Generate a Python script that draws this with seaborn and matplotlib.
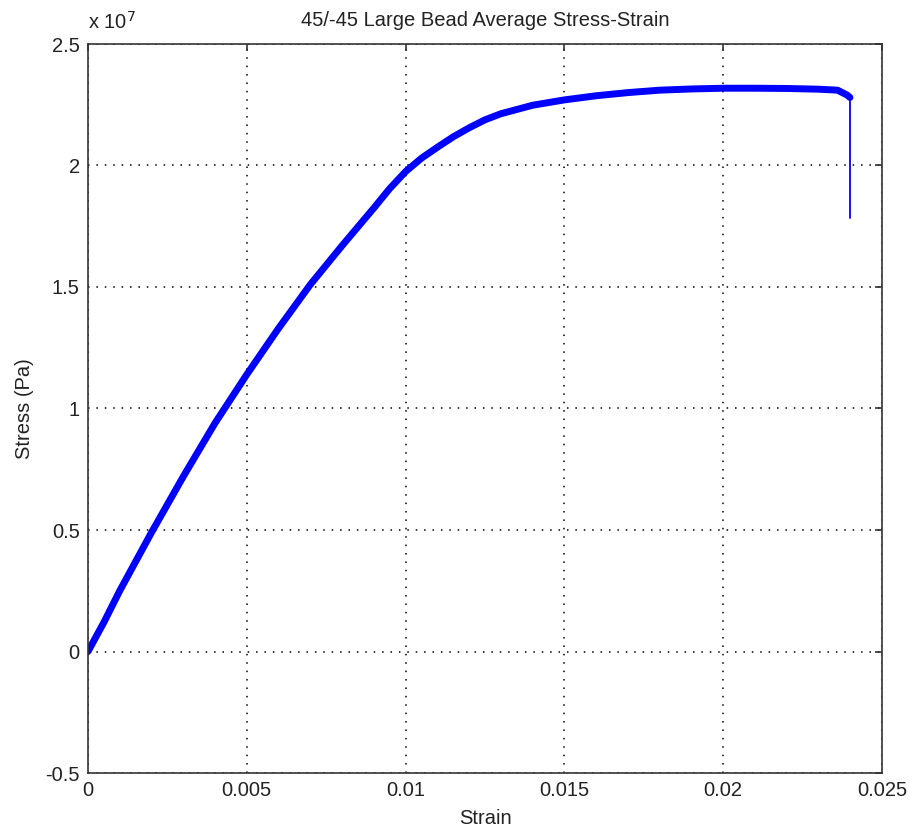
import numpy as np
import pandas as pd
import matplotlib
matplotlib.use('Agg')
import matplotlib.pyplot as plt
import matplotlib.ticker as mticker
import seaborn as sns

# stress-strain curve (stress in Pa)
strain = [0.0, 0.0005, 0.001, 0.002, 0.003, 0.004, 0.005, 0.006, 0.007, 0.008,
          0.009, 0.0095, 0.010, 0.0105, 0.011, 0.0115, 0.012, 0.0125, 0.013, 0.014,
          0.015, 0.016, 0.017, 0.018, 0.019, 0.020, 0.021, 0.022, 0.023, 0.0236,
          0.0239, 0.02399]
stress = [0.0, 0.12e7, 0.25e7, 0.49e7, 0.72e7, 0.94e7, 1.14e7, 1.33e7, 1.51e7, 1.67e7,
          1.825e7, 1.905e7, 1.975e7, 2.03e7, 2.075e7, 2.118e7, 2.155e7, 2.188e7, 2.213e7, 2.248e7,
          2.27e7, 2.287e7, 2.30e7, 2.31e7, 2.315e7, 2.318e7, 2.318e7, 2.317e7, 2.314e7, 2.31e7,
          2.29e7, 2.28e7]
# final failure drop
drop_strain = [0.02399, 0.02399]
drop_stress = [2.28e7, 1.786e7]

df = pd.DataFrame({'Strain': strain, 'Stress': stress})
drop = pd.DataFrame({'Strain': drop_strain, 'Stress': drop_stress})

sns.set_style('white')
plt.rcParams['font.family'] = ['Liberation Sans', 'DejaVu Sans']
fs = 14.5

fig = plt.figure(figsize=(9.1, 8.3), dpi=100)
ax = fig.add_axes([88 / 910, 57 / 830, 794 / 910, 729 / 830])

sns.lineplot(data=df, x='Strain', y='Stress', sort=False, estimator=None,
             color='#0000ff', linewidth=5, ax=ax)
sns.lineplot(data=drop, x='Strain', y='Stress', sort=False, estimator=None,
             color='#0000ff', linewidth=1.3, ax=ax)

ax.set_xlim(0, 0.025)
ax.set_ylim(-0.5e7, 2.5e7)
ax.set_xticks(np.arange(0, 0.0251, 0.005))
ax.set_yticks(np.arange(-0.5e7, 2.51e7, 0.5e7))
ax.xaxis.set_major_formatter(mticker.FuncFormatter(lambda v, p: '%g' % round(v, 4)))
ax.yaxis.set_major_formatter(mticker.FuncFormatter(lambda v, p: '%g' % round(v / 1e7, 2)))
ax.text(0.0, 1.015, r'x 10$^{7}$', transform=ax.transAxes, fontsize=fs,
        ha='left', va='bottom', color='#222222')

ax.grid(True, color='black', linestyle=(0, (1, 4.5)), linewidth=1.1)
ax.tick_params(direction='in', length=5, width=1.2, top=True, right=True,
               labelsize=fs, colors='#333333', labelcolor='#222222', pad=6)
for s in ax.spines.values():
    s.set_color('#333333')
    s.set_linewidth(1.2)

ax.set_title('45/-45 Large Bead Average Stress-Strain', fontsize=fs, pad=13,
             color='#222222')
ax.set_xlabel('Strain', fontsize=fs, labelpad=6, color='#222222')
ax.set_ylabel('Stress (Pa)', fontsize=fs, labelpad=8, color='#222222')

fig.savefig('out.png', dpi=100, facecolor='white')
